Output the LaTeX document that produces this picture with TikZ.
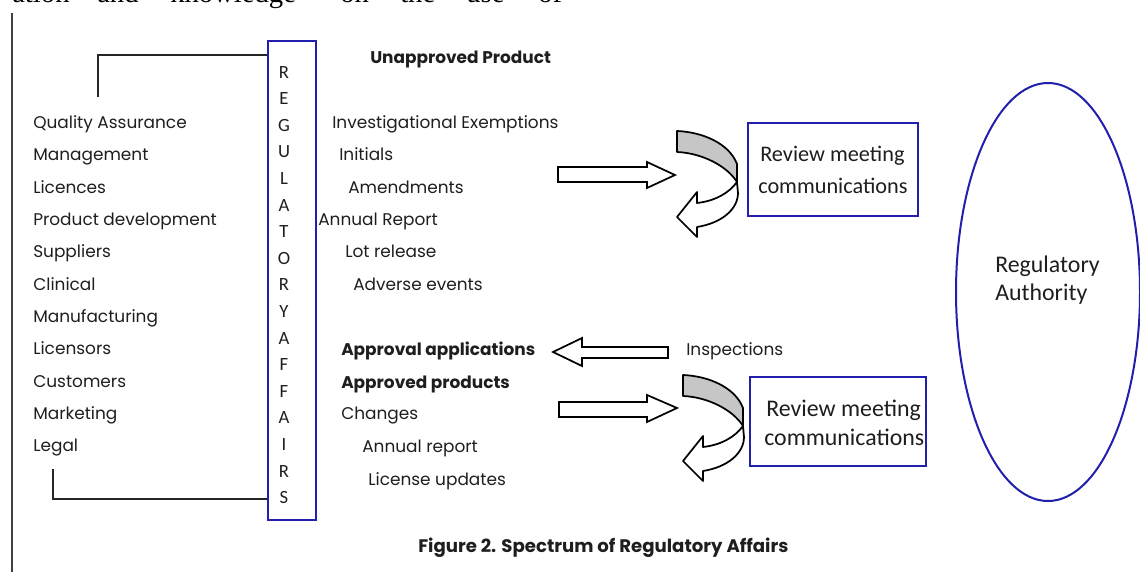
\documentclass[tikz,border=0pt]{standalone}
\usepackage{fontspec}
\usetikzlibrary{shapes.geometric}
\setmainfont{Poppins}
\newfontfamily\calib{Carlito}
\newfontfamily\bookserif{Liberation Serif}
\definecolor{raBlue}{RGB}{32,32,172}
\definecolor{inkgray}{RGB}{30,30,30}
\begin{document}
\begin{tikzpicture}[x=0.75pt,y=-0.75pt,
  item/.style={anchor=base west, inner sep=0, text=inkgray, font=\fontsize{12.7}{14}\selectfont},
  headitem/.style={item, font=\fontsize{12.7}{14}\selectfont\bfseries},
  letter/.style={anchor=base, inner sep=0, text=inkgray, font=\calib\fontsize{14}{16}\selectfont},
  revtext/.style={anchor=base west, inner sep=0, text=inkgray, font=\calib\fontsize{16.7}{18}\selectfont},
  bluebox/.style={draw=raBlue, line width=1.5pt, inner sep=0},
  blockarrow/.style={draw=black, line width=1.3pt, fill=white, line join=miter},
  bracket/.style={draw=black!85, line width=1.4pt},
  curvedarrow/.pic={
    % shaded back of the ribbon
    \filldraw[fill=gray!45, draw=black, line width=1.3pt, line join=round]
      (0,0) .. controls (25,1) and (52,12) .. (60,33) -- (60,51)
      .. controls (50,35) and (25,22) .. (0,21) -- cycle;
    % front of the ribbon with its head
    \filldraw[fill=white, draw=black, line width=1.3pt, line join=round]
      (60,51) .. controls (52,62) and (38,70) .. (20,72) -- (20,61) -- (0,86)
      -- (20,106) -- (20,96) .. controls (45,92) and (61,78) .. (61,62) -- cycle;
  }
]
\useasboundingbox (0,0) rectangle (1140,572);

% running text of the page above the figure
\begin{scope}[every node/.style={anchor=base west, inner sep=0, font=\bookserif\fontsize{21.5}{22}\selectfont}]
  \node (w1) at (12,2) {ation};
  \node (w2) at (97,2) {and};
  \node (w3) at (170,2) {knowledge};
  \node (w4) at (340,2) {on};
  \node (w5) at (400,2) {the};
  \node (w6) at (466,2) {use};
  \node (w7) at (538,2) {of};
\end{scope}

% page margin rule
\draw[line width=2pt, black!75] (12,13) -- (12,572);

% vertical "REGULATORY AFFAIRS" box
\node[bluebox, minimum width=36pt, minimum height=359.25pt] (rabox) at (292,280.5) {};
\foreach \l [count=\i from 0] in {R,E,G,U,L,A,T,O,R,Y,A,F,F,A,I,R,S}
  \node[letter] (ra\i) at (284,{78+26.6*\i}) {\l};

% brackets grouping the functions
\coordinate (brTop) at (98,97);
\coordinate (brTopY) at (0,55);
\coordinate (brBot) at (53,469);
\coordinate (brBotY) at (0,499);
\draw[bracket] (brTop) |- (rabox.west |- brTopY);
\draw[bracket] (brBot) |- (rabox.west |- brBotY);

% functions
\node[item] (f1) at (33,128) {Quality Assurance};
\node[item] (f2) at (33,160) {Management};
\node[item] (f3) at (33,193) {Licences};
\node[item] (f4) at (33,225) {Product development};
\node[item] (f5) at (33,257) {Suppliers};
\node[item] (f6) at (33,290) {Clinical};
\node[item] (f7) at (33,322) {Manufacturing};
\node[item] (f8) at (33,354) {Licensors};
\node[item] (f9) at (33,387) {Customers};
\node[item] (f10) at (33,419) {Marketing};
\node[item] (f11) at (33,451) {Legal};

% unapproved product
\node[headitem] (unapp) at (370,63) {Unapproved Product};
\node[item] (u1) at (332,128) {Investigational Exemptions};
\node[item] (u2) at (339,160) {Initials};
\node[item] (u3) at (348,193) {Amendments};
\node[item] (u4) at (318,225) {Annual Report};
\node[item] (u5) at (345,257) {Lot release};
\node[item] (u6) at (353,290) {Adverse events};

% approved products
\node[headitem] (appl) at (341,355) {Approval applications};
\node[headitem] (appr) at (341,388) {Approved products};
\node[item] (a1) at (341,419) {Changes};
\node[item] (a2) at (362,452) {Annual report};
\node[item] (a3) at (368,485) {License updates};
\node[item] (insp) at (686,355) {Inspections};

% block arrows
\draw[blockarrow] (558,167) -- (647,167) -- (647,162) -- (675,175) -- (647,188) -- (647,182) -- (558,182) -- cycle;
\draw[blockarrow] (668,347) -- (582,347) -- (582,338) -- (553,352) -- (582,366) -- (582,358) -- (668,358) -- cycle;
\draw[blockarrow] (559,402) -- (647,402) -- (647,395) -- (677,408) -- (647,422) -- (647,417) -- (559,417) -- cycle;

% curved arrows
\pic at (677,131) {curvedarrow};
\pic at (683,375) {curvedarrow};

% review meeting boxes
\node[bluebox, minimum width=127.5pt, minimum height=69.75pt] (rev1) at (833,169.5) {};
\node[revtext] (rev1a) at (760,161) {Review meeting};
\node[revtext] (rev1b) at (758,193) {communications};
\node[bluebox, minimum width=132pt, minimum height=66.75pt] (rev2) at (838,421.5) {};
\node[revtext, font=\calib\fontsize{17.9}{19}\selectfont] (rev2a) at (766,416) {Review meeting};
\node[revtext, font=\calib\fontsize{17.9}{19}\selectfont] (rev2b) at (764,445) {communications};

% regulatory authority
\node[draw=raBlue, line width=1.5pt, ellipse, minimum width=138pt, minimum height=313.5pt, inner sep=0] (auth) at (1048,292) {};
\node[revtext, font=\calib\fontsize{17.9}{19}\selectfont] (auth1) at (995,272) {Regulatory};
\node[revtext, font=\calib\fontsize{17.9}{19}\selectfont] (auth2) at (995,300) {Authority};

% caption
\node[anchor=base west, inner sep=0, text=inkgray, font=\fontsize{13.6}{15}\selectfont\bfseries] (cap) at (418,552) {Figure 2. Spectrum of Regulatory Affairs};
\end{tikzpicture}
\end{document}
